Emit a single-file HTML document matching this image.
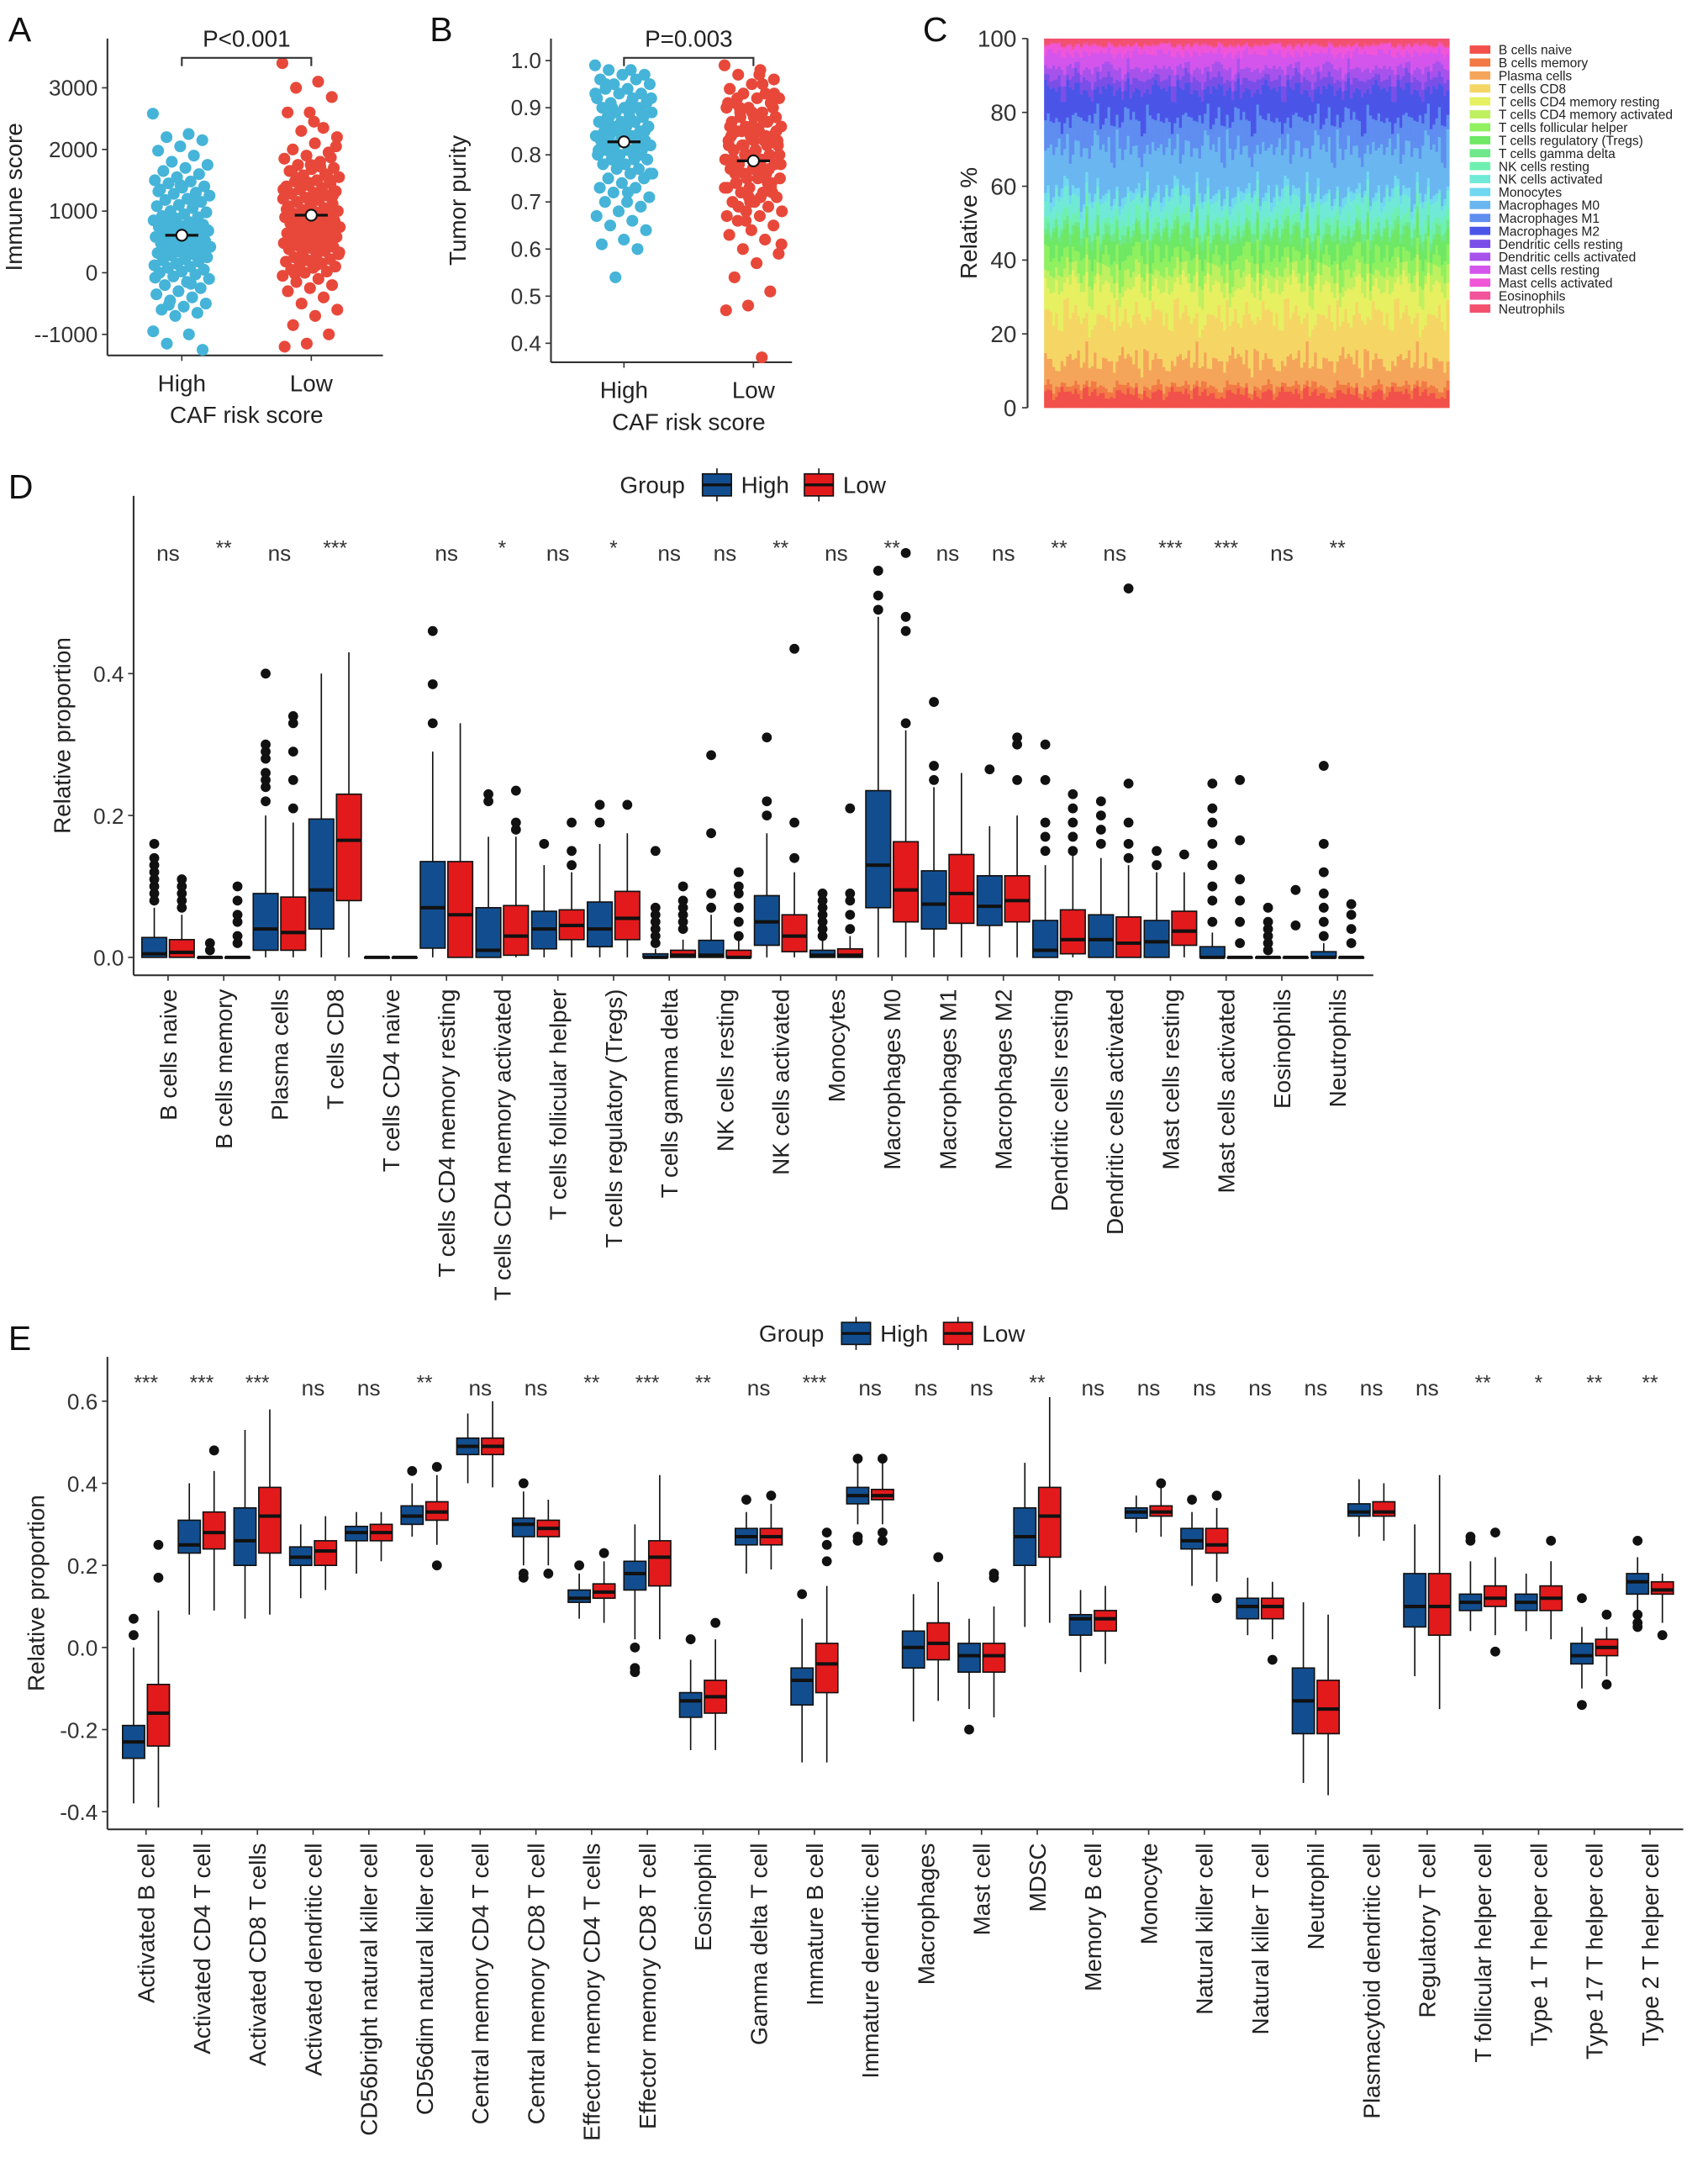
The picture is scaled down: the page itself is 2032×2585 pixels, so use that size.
<!DOCTYPE html>
<html><head><meta charset="utf-8">
<style>
html,body{margin:0;padding:0;background:#fff;}
svg{display:block;font-family:"Liberation Sans",Arial,sans-serif;}
</style></head>
<body>
<svg id="fig" xmlns="http://www.w3.org/2000/svg" width="2032" height="2585" viewBox="0 0 1240 1577.5" preserveAspectRatio="none"></svg>
<script>
// ---------- DATA ----------
const immuneHigh=[2580,2250,2200,2150,2050,1980,1900,1800,1750,1700,1650,1600,1550,1500,1480,1450,1400,1380,1350,1300,1280,1250,1200,1180,1150,1100,1080,1050,1000,980,950,920,900,880,850,820,800,780,760,740,720,700,680,660,640,620,600,580,560,540,520,500,480,460,440,420,400,380,360,340,320,300,280,250,220,200,180,150,120,100,80,50,20,0,-30,-60,-100,-150,-200,-250,-300,-350,-400,-450,-500,-550,-600,-650,-700,-950,-1000,-1150,-1250,1420,1320,1120,870,690,530,410,260,140,-80,-180,-520];
const immuneLow=[3400,3100,3000,2850,2600,2600,2350,2300,2200,2100,2000,1950,1900,1850,1800,1750,1700,1680,1650,1600,1580,1550,1500,1480,1450,1420,1400,1380,1350,1320,1300,1280,1250,1220,1200,1180,1150,1120,1100,1080,1050,1020,1000,980,960,940,920,900,880,860,840,820,800,780,760,740,720,700,680,660,640,620,600,580,560,540,520,500,480,460,440,420,400,380,350,320,300,280,250,220,200,180,150,120,100,80,50,20,0,-50,-100,-150,-200,-250,-300,-400,-500,-600,-700,-850,-1000,-1150,-1200,1720,1530,1330,1130,930,730,530,330,130,-20,1870,1460,1030,610,240,2050,2450,1650,1550,1450,1350,1250,1150,1250,1750];
const purityHigh=[0.99,0.98,0.98,0.97,0.97,0.96,0.96,0.95,0.95,0.94,0.94,0.93,0.93,0.92,0.92,0.91,0.91,0.90,0.90,0.90,0.89,0.89,0.88,0.88,0.88,0.87,0.87,0.87,0.86,0.86,0.86,0.85,0.85,0.85,0.84,0.84,0.84,0.83,0.83,0.83,0.82,0.82,0.82,0.81,0.81,0.81,0.80,0.80,0.80,0.79,0.79,0.78,0.78,0.77,0.77,0.76,0.76,0.75,0.75,0.74,0.73,0.73,0.72,0.71,0.70,0.70,0.69,0.68,0.67,0.66,0.65,0.64,0.62,0.61,0.60,0.54,0.92,0.89,0.87,0.85,0.83,0.81,0.79,0.90,0.86,0.84,0.82,0.80,0.78,0.93,0.91,0.88,0.85,0.83,0.87,0.84,0.80,0.76,0.72,0.95,0.89,0.86];
const purityLow=[0.99,0.98,0.97,0.96,0.95,0.94,0.93,0.93,0.92,0.92,0.91,0.91,0.90,0.90,0.89,0.89,0.88,0.88,0.87,0.87,0.86,0.86,0.85,0.85,0.84,0.84,0.83,0.83,0.82,0.82,0.81,0.81,0.80,0.80,0.79,0.79,0.78,0.78,0.77,0.77,0.76,0.76,0.75,0.75,0.74,0.74,0.73,0.73,0.72,0.72,0.71,0.70,0.70,0.69,0.68,0.68,0.67,0.66,0.65,0.64,0.63,0.62,0.60,0.59,0.57,0.54,0.51,0.48,0.47,0.37,0.90,0.88,0.86,0.84,0.82,0.80,0.78,0.76,0.74,0.72,0.70,0.91,0.87,0.85,0.83,0.81,0.79,0.77,0.75,0.73,0.71,0.69,0.93,0.89,0.86,0.84,0.82,0.80,0.78,0.76,0.73,0.71,0.67,0.95,0.88,0.85,0.83,0.79,0.74,0.66,0.61,0.97,0.92,0.90,0.86,0.82,0.77];

const cellTypes=["B cells naive","B cells memory","Plasma cells","T cells CD8","T cells CD4 memory resting","T cells CD4 memory activated","T cells follicular helper","T cells regulatory (Tregs)","T cells gamma delta","NK cells resting","NK cells activated","Monocytes","Macrophages M0","Macrophages M1","Macrophages M2","Dendritic cells resting","Dendritic cells activated","Mast cells resting","Mast cells activated","Eosinophils","Neutrophils"];
const meanComposition=[4,2,7,12,8,4,5,5,2,3,5,2,12,8,8,3,3,4,2,0.5,1.5];
const sampleShift=[0.3,-0.6,0.8,-0.2,0.1,-0.9,0.5,0.7,-0.4,0.0,0.9,-0.7,0.2,-0.3,0.6,-0.8,0.4,-0.1,0.75,-0.5,0.15,-0.95,0.55,0.35,-0.25,0.85,-0.65,0.05,-0.45,0.65,-0.15,0.95,-0.35,0.25,-0.75,0.45,-0.05,0.7,-0.55,0.1];
const cellColors=["#f2504a","#f27a45","#f5a55a","#f5d665","#e6f060","#bff060","#8ff060","#6ee865","#6ee88a","#6ef0b0","#70ead6","#70d8f0","#6ab6f0","#5f8df0","#4a55e8","#7a4fe8","#a852ec","#d455ec","#f055d8","#f2559c","#f2506e"];

const dCats=["B cells naive","B cells memory","Plasma cells","T cells CD8","T cells CD4 naive","T cells CD4 memory resting","T cells CD4 memory activated","T cells follicular helper","T cells regulatory (Tregs)","T cells gamma delta","NK cells resting","NK cells activated","Monocytes","Macrophages M0","Macrophages M1","Macrophages M2","Dendritic cells resting","Dendritic cells activated","Mast cells resting","Mast cells activated","Eosinophils","Neutrophils"];
const dSig=["ns","**","ns","***","","ns","*","ns","*","ns","ns","**","ns","**","ns","ns","**","ns","***","***","ns","**"];
const dHigh=[[0,0,0.005,0.028,0.07],[0,0,0,0,0],[0,0.01,0.04,0.09,0.2],[0,0.04,0.095,0.195,0.4],[0,0,0,0,0],[0,0.013,0.07,0.135,0.29],[0,0,0.01,0.07,0.17],[0,0.012,0.04,0.065,0.13],[0,0.015,0.04,0.078,0.16],[0,0,0,0.005,0.012],[0,0,0.003,0.024,0.06],[0,0.017,0.05,0.087,0.175],[0,0,0.003,0.01,0.025],[0,0.07,0.13,0.235,0.48],[0,0.04,0.075,0.122,0.24],[0,0.045,0.072,0.115,0.185],[0,0,0.01,0.052,0.13],[0,0,0.025,0.06,0.14],[0,0,0.022,0.052,0.12],[0,0,0,0.015,0.035],[0,0,0,0,0],[0,0,0,0.008,0.02]];
const dLow=[[0,0,0.007,0.025,0.06],[0,0,0,0,0],[0,0.01,0.035,0.085,0.19],[0,0.08,0.165,0.23,0.43],[0,0,0,0,0],[0,0,0.06,0.135,0.33],[0,0.003,0.03,0.073,0.17],[0,0.025,0.045,0.067,0.12],[0,0.025,0.055,0.093,0.175],[0,0,0.003,0.01,0.025],[0,0,0,0.01,0.025],[0,0.008,0.03,0.06,0.12],[0,0,0.003,0.012,0.03],[0,0.05,0.095,0.163,0.32],[0,0.048,0.09,0.145,0.26],[0,0.05,0.08,0.115,0.2],[0,0.005,0.025,0.067,0.145],[0,0,0.02,0.057,0.13],[0,0.017,0.037,0.065,0.12],[0,0,0,0,0],[0,0,0,0,0],[0,0,0,0,0]];
const dOutHigh=[[0.08,0.09,0.1,0.11,0.12,0.13,0.14,0.16],[0.01,0.02],[0.22,0.24,0.25,0.26,0.28,0.29,0.3,0.4],[],[],[0.33,0.385,0.46],[0.22,0.23],[0.16],[0.19,0.215],[0.02,0.03,0.04,0.05,0.06,0.07,0.15],[0.07,0.09,0.175,0.285],[0.2,0.22,0.31],[0.03,0.04,0.05,0.06,0.07,0.08,0.09],[0.49,0.51,0.545],[0.25,0.27,0.36],[0.265],[0.15,0.17,0.19,0.25,0.3],[0.16,0.18,0.2,0.22],[0.13,0.15],[0.05,0.08,0.1,0.13,0.16,0.19,0.21,0.245],[0.01,0.02,0.03,0.04,0.05,0.07],[0.03,0.05,0.07,0.09,0.12,0.16,0.27]];
const dOutLow=[[0.07,0.08,0.09,0.1,0.11],[0.02,0.03,0.05,0.06,0.08,0.1],[0.21,0.25,0.29,0.33,0.34],[],[],[],[0.18,0.19,0.235],[0.13,0.15,0.19],[0.215],[0.04,0.05,0.06,0.07,0.08,0.1],[0.03,0.05,0.07,0.09,0.1,0.12],[0.14,0.19,0.435],[0.04,0.06,0.08,0.09,0.21],[0.33,0.46,0.48,0.57],[],[0.25,0.3,0.31],[0.15,0.17,0.19,0.21,0.23],[0.14,0.16,0.19,0.245,0.52],[0.145],[0.02,0.05,0.08,0.11,0.165,0.25],[0.045,0.095],[0.02,0.04,0.06,0.075]];

const eCats=["Activated B cell","Activated CD4 T cell","Activated CD8 T cells","Activated dendritic cell","CD56bright natural killer cell","CD56dim natural killer cell","Central memory CD4 T cell","Central memory CD8 T cell","Effector memory CD4 T cells","Effector memory CD8 T cell","Eosinophil","Gamma delta T cell","Immature B cell","Immature dendritic cell","Macrophages","Mast cell","MDSC","Memory B cell","Monocyte","Natural killer cell","Natural killer T cell","Neutrophil","Plasmacytoid dendritic cell","Regulatory T cell","T follicular helper cell","Type 1 T helper cell","Type 17 T helper cell","Type 2 T helper cell"];
const eSig=["***","***","***","ns","ns","**","ns","ns","**","***","**","ns","***","ns","ns","ns","**","ns","ns","ns","ns","ns","ns","ns","**","*","**","**"];
const eHigh=[[-0.38,-0.27,-0.23,-0.19,0.0],[0.08,0.23,0.25,0.31,0.4],[0.07,0.2,0.26,0.34,0.53],[0.12,0.2,0.22,0.245,0.3],[0.18,0.26,0.28,0.295,0.33],[0.27,0.3,0.32,0.345,0.4],[0.4,0.47,0.49,0.51,0.57],[0.2,0.27,0.3,0.315,0.38],[0.07,0.11,0.12,0.14,0.18],[0.02,0.14,0.18,0.21,0.3],[-0.25,-0.17,-0.13,-0.11,-0.03],[0.18,0.25,0.27,0.29,0.33],[-0.28,-0.14,-0.08,-0.05,0.07],[0.3,0.35,0.37,0.39,0.45],[-0.18,-0.05,0.0,0.04,0.13],[-0.15,-0.06,-0.02,0.01,0.07],[0.05,0.2,0.27,0.34,0.45],[-0.06,0.03,0.07,0.08,0.14],[0.28,0.315,0.33,0.34,0.37],[0.15,0.24,0.26,0.29,0.33],[0.03,0.07,0.1,0.12,0.17],[-0.33,-0.21,-0.13,-0.05,0.11],[0.27,0.32,0.33,0.35,0.41],[-0.07,0.05,0.1,0.18,0.3],[0.04,0.09,0.11,0.13,0.21],[0.04,0.09,0.11,0.13,0.18],[-0.1,-0.04,-0.02,0.01,0.05],[0.09,0.13,0.16,0.18,0.22]];
const eLow=[[-0.39,-0.24,-0.16,-0.09,0.09],[0.09,0.24,0.28,0.33,0.43],[0.08,0.23,0.32,0.39,0.58],[0.14,0.2,0.235,0.26,0.32],[0.21,0.26,0.28,0.3,0.33],[0.25,0.31,0.33,0.355,0.42],[0.39,0.47,0.49,0.51,0.6],[0.2,0.27,0.29,0.31,0.36],[0.06,0.12,0.135,0.155,0.21],[0.02,0.15,0.22,0.26,0.42],[-0.25,-0.16,-0.12,-0.08,0.02],[0.19,0.25,0.27,0.29,0.35],[-0.28,-0.11,-0.04,0.01,0.15],[0.3,0.36,0.37,0.385,0.45],[-0.13,-0.03,0.01,0.06,0.16],[-0.17,-0.06,-0.02,0.01,0.1],[0.06,0.22,0.32,0.39,0.61],[-0.04,0.04,0.07,0.09,0.15],[0.27,0.32,0.33,0.345,0.39],[0.16,0.23,0.25,0.29,0.34],[0.02,0.07,0.1,0.12,0.16],[-0.36,-0.21,-0.15,-0.08,0.08],[0.26,0.32,0.33,0.355,0.4],[-0.15,0.03,0.1,0.18,0.42],[0.03,0.1,0.12,0.15,0.22],[0.02,0.09,0.12,0.15,0.21],[-0.07,-0.02,0,0.02,0.05],[0.06,0.13,0.14,0.16,0.18]];
const eOutHigh=[[0.03,0.07],[],[],[],[],[0.43],[],[0.18,0.17,0.4],[0.2],[0,-0.05,-0.06],[0.02],[0.36],[0.13],[0.26,0.27,0.46],[],[-0.2],[],[],[],[0.36],[],[],[],[],[0.26,0.27],[],[0.12,-0.14],[0.26,0.05,0.06,0.08]];
const eOutLow=[[0.17,0.25],[0.48],[],[],[],[0.44,0.2],[],[0.18],[0.23],[],[0.06],[0.37],[0.21,0.25,0.28],[0.26,0.28,0.46],[0.22],[0.17,0.18],[],[],[0.4],[0.12,0.37],[-0.03],[],[],[],[0.28,-0.01],[0.26],[0.08,-0.09],[0.03]];

// ---------- HELPERS ----------
const NS="http://www.w3.org/2000/svg";
const svg=document.getElementById('fig');
function mk(tag,attrs,parent){const e=document.createElementNS(NS,tag);for(const k in attrs)e.setAttribute(k,attrs[k]);(parent||svg).appendChild(e);return e;}
function txt(s,x,y,size,parent,extra){const e=mk('text',Object.assign({x:x,y:y,'font-size':size,fill:'#111'},extra||{}),parent);e.textContent=s;return e;}
function grp(name){const g=mk('g',{});return g;}

// ---------- PANEL LETTERS ----------
[["A",6,30],["B",312,30],["C",670,30],["D",6,362],["E",6,980]].forEach(p=>{const t=txt(p[0],p[1],p[2],25,svg);});

// ---------- SCATTER PANELS ----------
function scatterPanel(name,ax,axTop,axBot,axRight,yScale,ticks,tickFmt,hiVals,loVals,xHigh,xLow,ytitle,ptxt,bracketY){
  const g=grp(name);
  const ya=mk('line',{x1:ax,y1:axTop,x2:ax,y2:axBot,stroke:'#333','stroke-width':1.3},g);
  
  const xa=mk('line',{x1:ax,y1:axBot,x2:axRight,y2:axBot,stroke:'#333','stroke-width':1.3},g);
  
  ticks.forEach(v=>{const y=yScale(v);mk('line',{x1:ax-4,y1:y,x2:ax,y2:y,stroke:'#333'},g);const t=txt(tickFmt(v),ax-7,y+5.5,16,g,{'text-anchor':'end',fill:'#333'});});
  [[xHigh,'High'],[xLow,'Low']].forEach(p=>{mk('line',{x1:p[0],y1:axBot,x2:p[0],y2:axBot+4,stroke:'#333'},g);const t=txt(p[1],p[0],axBot+26,17,g,{'text-anchor':'middle',fill:'#222'});});
  const xt=txt('CAF risk score',(xHigh+xLow)/2,axBot+49,17,g,{'text-anchor':'middle',fill:'#222'});
  
  const cy=(axTop+axBot)/2;
  const yt=txt(ytitle,0,0,17,g,{'text-anchor':'middle',transform:`translate(${ax-62},${cy}) rotate(-90)`,fill:'#222'});
  
  [[hiVals,xHigh,'#45b4d8','point-high'],[loVals,xLow,'#e8483a','point-low']].forEach(s=>{
    s[0].forEach((v,i)=>{const j=((i*0.618034)%1-0.5)*42;const c=mk('circle',{cx:s[1]+j,cy:yScale(v),r:4.3,fill:s[2]},g);});
    const m=s[0].reduce((a,b)=>a+b,0)/s[0].length;const my=yScale(m);
    const eb=mk('line',{x1:s[1]-12,y1:my,x2:s[1]+12,y2:my,stroke:'#111','stroke-width':2},g);
    const mc=mk('circle',{cx:s[1],cy:my,r:4,fill:'#fff',stroke:'#111','stroke-width':1.3},g);
  });
  const br=mk('path',{d:`M${xHigh},${bracketY+6}V${bracketY}H${xLow}V${bracketY+6}`,fill:'none',stroke:'#333','stroke-width':1.3},g);
  
  const pt=txt(ptxt,(xHigh+xLow)/2,bracketY-8,17,g,{'text-anchor':'middle',fill:'#222'});
  
}
scatterPanel('panel-a-immune-score',78,28,258,278,v=>198-v*0.04475,[-1000,0,1000,2000,3000],v=>v<0?'--1000':String(v),immuneHigh,immuneLow,132,226,'Immune score','P<0.001',42);
scatterPanel('panel-b-tumor-purity',400,28,263,575,v=>44+(1.0-v)*342,[0.4,0.5,0.6,0.7,0.8,0.9,1.0],v=>v.toFixed(1),purityHigh,purityLow,453,547,'Tumor purity','P=0.003',42);

// ---------- PANEL C ----------
(function(){
  const g=grp('panel-c-stacked-bars');
  const x0=758,x1=1052,y0=296,y1=28,nS=147,bw=(x1-x0)/nS;
  const ys=v=>y0-(y0-y1)*v/100;
  for(let s=0;s<nS;s++){
    const vals=meanComposition.map((m,i)=>m*(1+0.5*sampleShift[(s*7+i*3)%sampleShift.length]));
    const tot=vals.reduce((a,b)=>a+b,0);let acc=0;
    vals.forEach((v,i)=>{const p=v/tot*100;const r=mk('rect',{x:x0+s*bw,y:ys(acc+p),width:bw+0.4,height:ys(acc)-ys(acc+p)+0.2,fill:cellColors[i]},g);acc+=p;});
  }
  const ya=mk('line',{x1:746,y1:28,x2:746,y2:296,stroke:'#333','stroke-width':1.3},g);
  [0,20,40,60,80,100].forEach(v=>{const y=ys(v);mk('line',{x1:742,y1:y,x2:746,y2:y,stroke:'#333'},g);const t=txt(String(v),738,y+6,17,g,{'text-anchor':'end',fill:'#333'});});
  const yt=txt('Relative %',0,0,17,g,{'text-anchor':'middle',transform:'translate(709,162) rotate(-90)',fill:'#222'});
  cellTypes.forEach((c,i)=>{const y=36+i*9.4;const r=mk('rect',{x:1067,y:y-3,width:15,height:6,fill:cellColors[i]},g);const t=txt(c,1088,y+3.5,9.5,g,{fill:'#222'});});
})();

// ---------- BOX PANELS ----------
function boxPanel(name,cats,sig,hi,lo,outHi,outLo,o){
  const g=grp(name);
  const ys=v=>o.zeroY-v*o.ppu;
  const xc=i=>o.firstX+i*o.step;
  const lg=grp('group-legend');g.appendChild(lg);
  const gt=txt('Group',o.legX,o.legY+6,17,lg,{fill:'#222'});
  [['High','#124e8f',o.legX+60],['Low','#e31a1c',o.legX+134]].forEach(p=>{
    const r=mk('rect',{x:p[2],y:o.legY-8,width:21,height:16,fill:p[1],stroke:'#111','stroke-width':1},lg);
    mk('line',{x1:p[2],y1:o.legY,x2:p[2]+21,y2:o.legY,stroke:'#111','stroke-width':2},lg);
    mk('line',{x1:p[2]+10.5,y1:o.legY-12,x2:p[2]+10.5,y2:o.legY-8,stroke:'#111'},lg);
    mk('line',{x1:p[2]+10.5,y1:o.legY+8,x2:p[2]+10.5,y2:o.legY+12,stroke:'#111'},lg);
    const t=txt(p[0],p[2]+28,o.legY+6,17,lg,{fill:'#222'});
  });
  const ya=mk('line',{x1:o.axX,y1:o.axTop,x2:o.axX,y2:o.axBot,stroke:'#333','stroke-width':1.3},g);
  const xa=mk('line',{x1:o.axX,y1:o.axBot,x2:o.axRight,y2:o.axBot,stroke:'#333','stroke-width':1.3},g);
  o.ticks.forEach(v=>{const y=ys(v);mk('line',{x1:o.axX-4,y1:y,x2:o.axX,y2:y,stroke:'#333'},g);const t=txt(v.toFixed(1),o.axX-7,y+6,16,g,{'text-anchor':'end',fill:'#333'});});
  const yt=txt('Relative proportion',0,0,17,g,{'text-anchor':'middle',transform:`translate(${o.axX-46},${(o.axTop+o.axBot)/2}) rotate(-90)`,fill:'#222'});
  cats.forEach((c,i)=>{
    const x=xc(i);
    mk('line',{x1:x,y1:o.axBot,x2:x,y2:o.axBot+4,stroke:'#333'},g);
    const t=txt(c,0,0,17,g,{'text-anchor':'end',transform:`translate(${x+6},${o.axBot+10}) rotate(-90)`,fill:'#222'});
    if(sig[i]){const s=txt(sig[i],x,sig[i]==='ns'?o.sigY:o.sigY-4,sig[i]==='ns'?16:15,g,{'text-anchor':'middle',fill:'#333'});}
    [[hi[i],outHi[i],-o.off,'#124e8f','box-high'],[lo[i],outLo[i],o.off,'#e31a1c','box-low']].forEach(b=>{
      const d=b[0],cx=x+b[2],hw=o.bw/2;
      mk('line',{x1:cx,y1:ys(d[0]),x2:cx,y2:ys(d[4]),stroke:'#111','stroke-width':1},g);
      const r=mk('rect',{x:cx-hw,y:ys(d[3]),width:o.bw,height:Math.max(ys(d[1])-ys(d[3]),0.5),fill:b[3],stroke:'#111','stroke-width':1},g);
      
      mk('line',{x1:cx-hw,y1:ys(d[2]),x2:cx+hw,y2:ys(d[2]),stroke:'#111','stroke-width':2.5},g);
      b[1].forEach(v=>{const p=mk('circle',{cx:cx,cy:ys(v),r:3.6,fill:'#111'},g);});
    });
  });
}
boxPanel('panel-d-cibersort-boxplot',dCats,dSig,dHigh,dLow,dOutHigh,dOutLow,{zeroY:695,ppu:515,firstX:122,step:40.43,axX:97,axTop:360,axBot:708,axRight:997,ticks:[0,0.2,0.4],sigY:407,off:10,bw:18,legX:450,legY:352});
boxPanel('panel-e-ssgsea-boxplot',eCats,eSig,eHigh,eLow,eOutHigh,eOutLow,{zeroY:1196,ppu:298,firstX:106,step:40.44,axX:78,axTop:985,axBot:1328,axRight:1222,ticks:[-0.4,-0.2,0,0.2,0.4,0.6],sigY:1013,off:9,bw:16,legX:551,legY:968});
</script>
</body></html>
